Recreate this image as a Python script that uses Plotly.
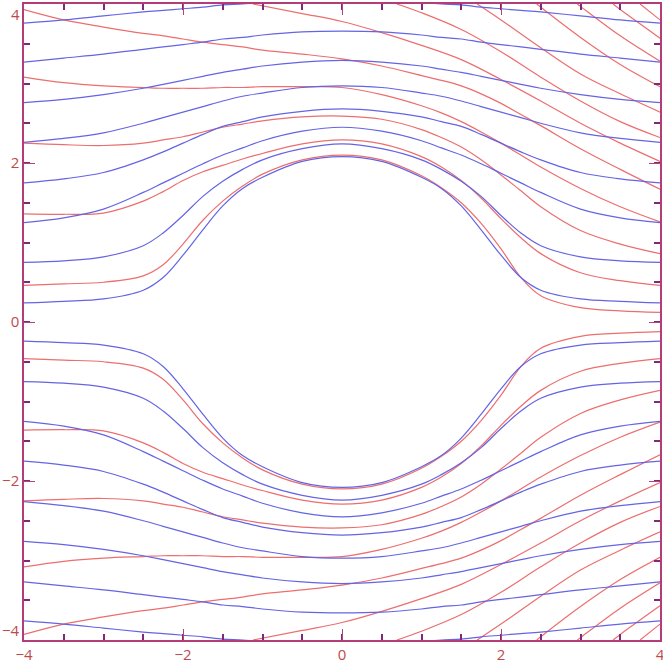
import plotly.graph_objects as go

# ---------------- data (upper half, y >= 0) ----------------
# Blue curves: symmetric in x and y; listed for x >= 0 (mirrored for x < 0)
blue_x = [0, 0.5, 1.0, 1.25, 1.5, 1.75, 2.0, 2.25, 2.5, 3.0, 3.5, 4.0]
blue_1 = [2.08, 2.02, 1.82, 1.68, 1.46, 1.16, 0.84, 0.56, 0.40, 0.29, 0.26, 0.24]
blue_2 = [2.24, 2.18, 2.04, 1.92, 1.77, 1.58, 1.34, 1.12, 0.96, 0.82, 0.77, 0.75]
blue_3 = [2.45, 2.40, 2.28, 2.19, 2.10, 1.99, 1.87, 1.75, 1.63, 1.42, 1.31, 1.25]
blue_4 = [2.68, 2.65, 2.58, 2.52, 2.46, 2.36, 2.25, 2.14, 2.04, 1.88, 1.80, 1.75]
blue_5 = [2.97, 2.95, 2.88, 2.84, 2.78, 2.71, 2.64, 2.57, 2.50, 2.38, 2.31, 2.26]
blue_6 = [3.29, 3.27, 3.22, 3.18, 3.14, 3.09, 3.04, 2.99, 2.94, 2.86, 2.80, 2.76]
blue_7 = [3.66, 3.65, 3.61, 3.58, 3.56, 3.52, 3.49, 3.46, 3.43, 3.37, 3.32, 3.27]
blue_8 = [4.05, 4.04, 4.02, 4.00, 3.99, 3.96, 3.94, 3.92, 3.90, 3.85, 3.80, 3.76]
blue_sets = [blue_1, blue_2, blue_3, blue_4, blue_5, blue_6, blue_7, blue_8]

# Red curves: symmetric in y only; listed from left to right
red_x = [-4, -3.5, -3, -2.5, -2.25, -2, -1.75, -1.5, -1.25, -1, -0.5, 0,
         0.5, 1, 1.25, 1.5, 1.75, 2, 2.25, 2.5, 3, 3.5, 4]
red_1 = [0.46, 0.48, 0.50, 0.58, 0.72, 0.98, 1.28, 1.52, 1.71, 1.86, 2.04, 2.10,
         2.04, 1.84, 1.69, 1.50, 1.24, 0.92, 0.56, 0.33, 0.18, 0.14, 0.12]
red_2 = [1.36, 1.355, 1.37, 1.52, 1.64, 1.78, 1.89, 1.97, 2.05, 2.12, 2.24, 2.29,
         2.24, 2.08, 1.95, 1.78, 1.56, 1.30, 1.06, 0.86, 0.62, 0.52, 0.46]
red_3 = [2.25, 2.23, 2.22, 2.25, 2.29, 2.33, 2.39, 2.45, 2.49, 2.53, 2.58, 2.59,
         2.55, 2.42, 2.32, 2.20, 2.04, 1.85, 1.65, 1.45, 1.15, 0.98, 0.86]
red_4 = [3.08, 3.01, 2.97, 2.95, 2.94, 2.94, 2.94, 2.95, 2.95, 2.96, 2.96, 2.95,
         2.86, 2.72, 2.63, 2.52, 2.39, 2.25, 2.10, 1.95, 1.68, 1.45, 1.26]
red_5 = [3.93, 3.80, 3.71, 3.63, 3.60, 3.56, 3.52, 3.49, 3.46, 3.42, 3.37, 3.31,
         3.22, 3.10, 3.04, 2.97, 2.87, 2.75, 2.61, 2.47, 2.18, 1.92, 1.67]
red_sets = [red_1, red_2, red_3, red_4, red_5]

# Red curves entering through the top edge (x, y pairs)
top_x = [[-1.12, -0.5, 0, 0.5, 1.0, 1.5, 2.0, 2.5, 3.0, 3.5, 4.0],
         [0.69, 1.0, 1.5, 2.0, 2.5, 3.0, 3.5, 4.0],
         [1.70, 2.0, 2.5, 3.0, 3.5, 4.0],
         [2.45, 2.5, 3.0, 3.5, 4.0],
         [2.96, 3.0, 3.5, 4.0],
         [3.41, 3.5, 4.0],
         [3.75, 4.0]]
top_y = [[4.0, 3.88, 3.78, 3.64, 3.48, 3.30, 3.05, 2.78, 2.50, 2.25, 2.02],
         [4.0, 3.89, 3.68, 3.40, 3.08, 2.78, 2.52, 2.32],
         [4.0, 3.80, 3.45, 3.12, 2.87, 2.64],
         [4.0, 3.96, 3.58, 3.24, 2.96],
         [4.0, 3.97, 3.60, 3.28],
         [4.0, 3.93, 3.57],
         [4.0, 3.80]]

major_ticks = [-4, -2, 0, 2, 4]
tick_text = ["\u22124", "\u22122", "0", "2", "4"]

BLUE = "rgb(100,100,228)"
RED = "rgb(236,110,110)"
LABEL = "rgb(190,75,75)"
FONT = dict(family="Open Sans", size=15, color=LABEL)

fig = go.Figure()

def add(xs, ys, color):
    fig.add_trace(go.Scatter(x=xs, y=ys, mode="lines",
                             line=dict(color=color, width=1.2, shape="spline", smoothing=1.0),
                             hoverinfo="skip", showlegend=False))

# red first (below), blue on top
for ys in red_sets:
    add(red_x, ys, RED)
    add(red_x, [-v for v in ys], RED)
for xs, ys in zip(top_x, top_y):
    add(xs, ys, RED)
    add(xs, [-v for v in ys], RED)

for ys in blue_sets:
    xs = [-v for v in blue_x[::-1]] + blue_x[1:]
    yy = ys[::-1] + ys[1:]
    add(xs, yy, BLUE)
    add(xs, [-v for v in yy], BLUE)

axis_common = dict(
    range=[-4, 4], showgrid=False, zeroline=False, automargin=False,
    ticklabeloverflow="allow",
    showline=True, linecolor="rgb(180,60,120)", linewidth=1.5, mirror="ticks",
    ticks="inside", ticklen=11, tickwidth=1, tickcolor="rgb(175,70,120)",
    tickvals=major_ticks,
    minor=dict(dtick=0.5, ticks="inside", ticklen=6, tickwidth=1.5,
               tickcolor="rgb(130,40,120)", showgrid=False),
    tickfont=FONT,
)

fig.update_xaxes(**axis_common, ticktext=tick_text)
# the end labels of the vertical axis are kept inside the page (as in the original)
fig.update_yaxes(**axis_common, ticktext=[""] + tick_text[1:-1] + [""])
fig.add_annotation(xref="paper", x=0, xanchor="right", xshift=-2,
                   yref="y", y=major_ticks[-1], yanchor="top", yshift=2,
                   text=tick_text[-1], showarrow=False, font=FONT)
fig.add_annotation(xref="paper", x=0, xanchor="right", xshift=-2,
                   yref="y", y=major_ticks[0], yanchor="bottom", yshift=-2,
                   text=tick_text[0], showarrow=False, font=FONT)

fig.update_layout(
    width=663, height=669,
    margin=dict(l=24, r=3, t=4, b=29),
    plot_bgcolor="white", paper_bgcolor="white",
)

fig.write_html("out.html", config={"displayModeBar": False},
               post_script="document.body.style.margin='0px';document.body.style.overflow='hidden';")
